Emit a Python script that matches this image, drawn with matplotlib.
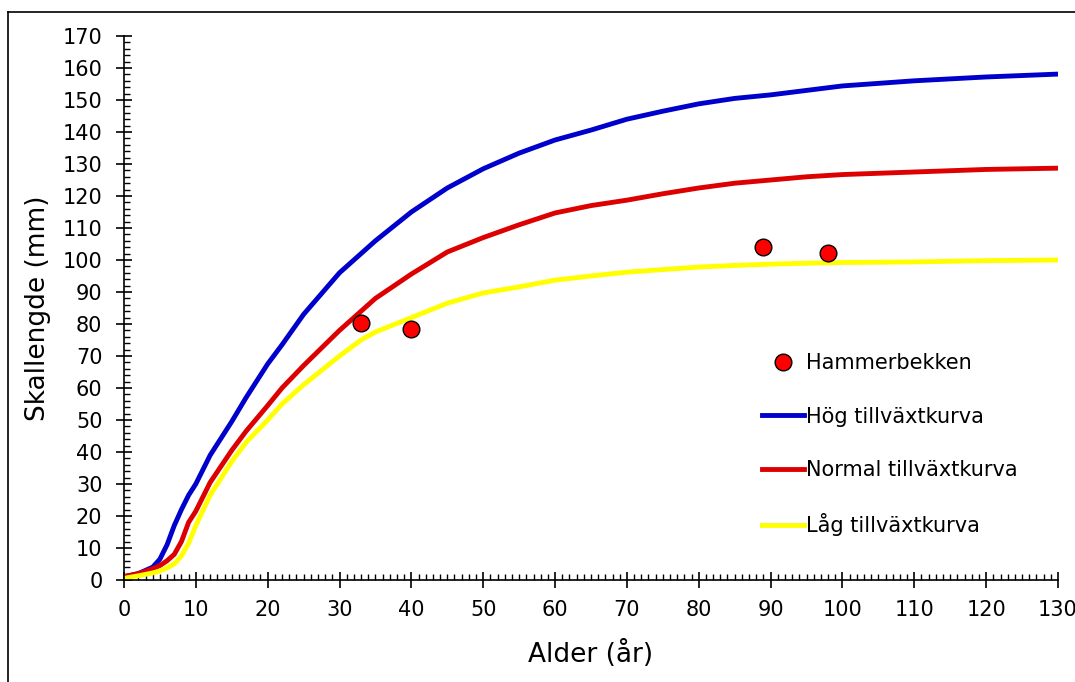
import matplotlib.pyplot as plt
from matplotlib.lines import Line2D
from matplotlib.ticker import MultipleLocator

# growth curves
age = [0, 2, 4, 5, 6, 7, 8, 9, 10, 12, 15, 17, 20, 22, 25, 30, 33, 35, 40, 45,
       50, 55, 60, 65, 70, 75, 80, 85, 90, 95, 100, 110, 120, 130]
hog = [1, 2, 4, 6.5, 11, 17, 22, 26.5, 30, 39, 49.5, 57, 67.5, 73.5, 83, 96,
       102, 106, 115, 122.5, 128.5, 133.4, 137.5, 140.6, 144, 146.5, 148.8,
       150.5, 151.6, 153, 154.4, 156, 157.2, 158.1]
normal = [1, 2, 3.5, 4.5, 6, 8, 12, 18, 21.5, 30.5, 40.5, 46.5, 54.5, 60, 67,
          78, 84, 88, 95.6, 102.5, 107, 111, 114.7, 117, 118.7, 120.7, 122.5,
          124, 125, 126, 126.7, 127.5, 128.3, 128.7]
lag = [0.5, 1.3, 2.2, 2.8, 3.8, 5, 7.5, 11.5, 17, 26.5, 37, 43, 50, 55, 61,
       70, 75, 77.5, 82, 86.5, 89.7, 91.6, 93.7, 95, 96.2, 97, 97.8, 98.3,
       98.7, 99, 99.2, 99.4, 99.8, 100]

# observed points
obs_age = [33, 40, 89, 98]
obs_len = [80.2, 78.5, 104, 102.2]

fig = plt.figure(figsize=(10.75, 6.82), dpi=100)
ax = fig.add_axes([0.1153, 0.1496, 0.8689, 0.7976])

ax.plot(age, hog, color='#0000CC', lw=3.5, label='Hög tillväxtkurva', zorder=2)
ax.plot(age, normal, color='#DD0000', lw=3.5, label='Normal tillväxtkurva', zorder=2)
ax.plot(age, lag, color='#FFFF00', lw=3.5, label='Låg tillväxtkurva', zorder=2)
ax.plot(obs_age, obs_len, 'o', color='#FF0000', mec='black', mew=1.0, ms=12,
        label='Hammerbekken', zorder=3)

ax.set_xlim(0, 130)
ax.set_ylim(0, 170)
ax.xaxis.set_major_locator(MultipleLocator(10))
ax.xaxis.set_minor_locator(MultipleLocator(1))
ax.yaxis.set_major_locator(MultipleLocator(10))
ax.yaxis.set_minor_locator(MultipleLocator(2))
ax.tick_params(which='major', direction='inout', length=11, width=1.2,
               labelsize=15)
ax.tick_params(axis='y', which='major', pad=10)
ax.tick_params(axis='x', which='major', pad=9)
ax.tick_params(which='minor', direction='in', length=4.5, width=1.0)
for s in ['top', 'right']:
    ax.spines[s].set_visible(False)
for s in ['left', 'bottom']:
    ax.spines[s].set_linewidth(1.2)

ax.set_xlabel('Alder (år)', fontsize=19, labelpad=14)
ax.set_ylabel('Skallengde (mm)', fontsize=19, labelpad=8)

h, l = ax.get_legend_handles_labels()
order = [3, 0, 1, 2]
ax.legend([h[i] for i in order], [l[i] for i in order], frameon=False,
          fontsize=15, loc='upper left', bbox_to_anchor=(0.6745, 0.432),
          handlelength=2.0, handletextpad=0.1, labelspacing=1.6,
          borderaxespad=0)

# outer chart frame (left and top edges visible in the picture)
fig.add_artist(Line2D([8 / 1075, 8 / 1075], [0, 1 - 12 / 682], color='black',
                      lw=1.2, transform=fig.transFigure))
fig.add_artist(Line2D([8 / 1075, 1], [1 - 12 / 682, 1 - 12 / 682],
                      color='black', lw=1.2, transform=fig.transFigure))

fig.savefig('out.png', dpi=100)
